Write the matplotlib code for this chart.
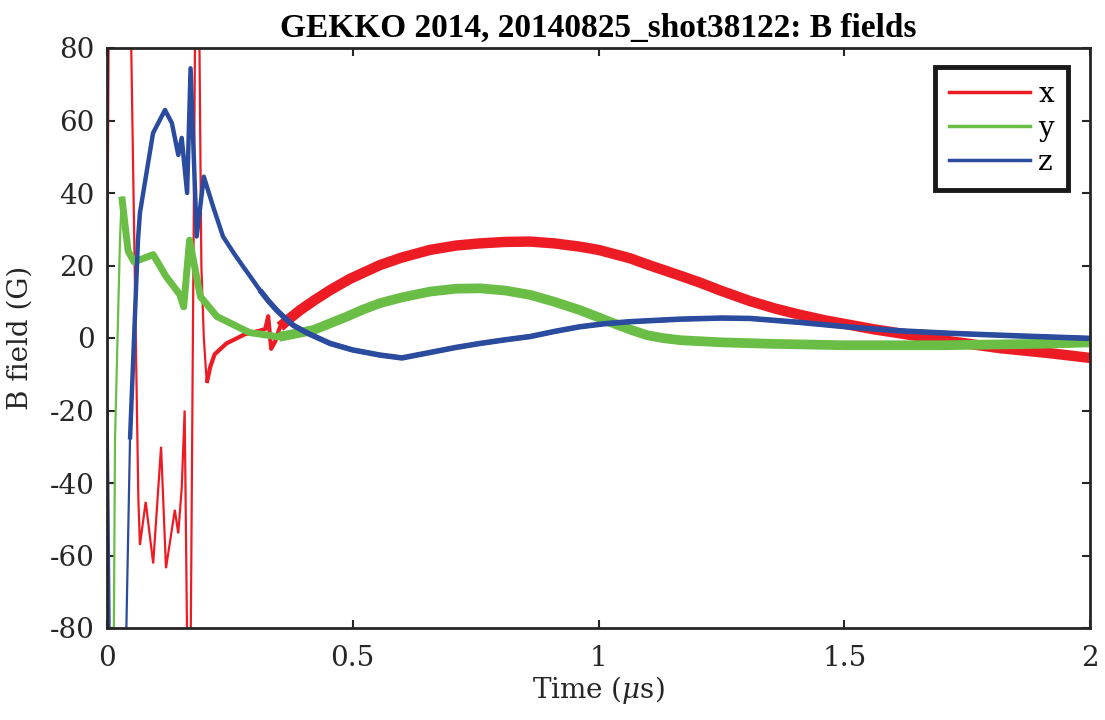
import matplotlib
matplotlib.use("Agg")
import matplotlib.pyplot as plt
import numpy as np

# Time axis in microseconds, field values in gauss
red_t = [0, 0.004, 0.047, 0.0637, 0.067, 0.0787, 0.094, 0.110, 0.120, 0.138,
         0.145, 0.152, 0.158, 0.1635, 0.1700, 0.1795, 0.1875, 0.192, 0.197,
         0.203, 0.21, 0.219, 0.243, 0.28, 0.31, 0.322, 0.328, 0.334, 0.342,
         0.352, 0.37, 0.393, 0.423, 0.454, 0.494, 0.555, 0.6, 0.657, 0.71,
         0.759, 0.81, 0.861, 0.91, 0.962, 1.0, 1.064, 1.105, 1.166, 1.206,
         1.25, 1.308, 1.36, 1.41, 1.46, 1.512, 1.56, 1.613, 1.715, 1.817,
         1.919, 2.0]
red_b = [0, 100, 100, -43.8, -57.1, -45.2, -62.2, -30, -63.5, -47.4,
         -53.9, -41.4, -20, -90, -90, 90, 90, 20, 0,
         -12.4, -8.0, -4.5, -1.5, 1.0, 2.0, 2.5, 6.0, -3.0, -1.0,
         3.1, 5.2, 7.7, 10.5, 13.2, 16.3, 20.1, 22.2, 24.3, 25.5,
         26.1, 26.5, 26.6, 26.1, 25.2, 24.3, 22.0, 20.0, 17.2, 15.3,
         13.0, 10.2, 8.1, 6.4, 4.9, 3.6, 2.4, 1.3, -0.9, -2.8,
         -4.2, -5.5]

green_t = [0, 0.002, 0.0135, 0.0163, 0.0264, 0.030, 0.036, 0.043, 0.055,
           0.075, 0.094, 0.12, 0.148, 0.156, 0.168, 0.19, 0.224, 0.29, 0.35,
           0.42, 0.488, 0.52, 0.555, 0.6, 0.657, 0.71, 0.759, 0.81, 0.861,
           0.91, 0.962, 1.0, 1.03, 1.065, 1.098, 1.13, 1.166, 1.25, 1.35,
           1.5, 1.7, 1.9, 2.0]
green_b = [0, -90, -90, -28, 27, 39, 32, 24, 21,
           22, 23, 17, 12, 8.6, 27, 11.4, 5.9, 1.5, 0.3,
           2.2, 5.9, 7.8, 9.6, 11.2, 12.8, 13.6, 13.7, 13.1, 11.9,
           10.0, 7.7, 5.7, 4.1, 2.3, 0.8, 0.0, -0.6, -1.2, -1.6,
           -2.0, -2.0, -1.6, -1.2]

blue_t = [0, 0.006, 0.038, 0.0468, 0.063, 0.067, 0.0936, 0.118, 0.132, 0.145,
          0.152, 0.163, 0.170, 0.1825, 0.197, 0.216, 0.236, 0.26, 0.277,
          0.295, 0.311, 0.328, 0.345, 0.362, 0.379, 0.41, 0.454, 0.5, 0.555,
          0.6, 0.657, 0.71, 0.759, 0.81, 0.861, 0.91, 0.962, 1.01, 1.064,
          1.166, 1.25, 1.308, 1.41, 1.512, 1.61, 1.715, 1.85, 2.0]
blue_b = [0, -90, -90, -28, 27, 34.5, 56.5, 62.9, 59.3, 50.5,
          55.2, 40, 74.4, 28, 44.5, 36.2, 28, 23, 19.7,
          16.3, 13.2, 10.3, 7.7, 5.5, 3.5, 1.2, -1.5, -3.3, -4.7,
          -5.5, -4.0, -2.6, -1.5, -0.5, 0.4, 1.8, 3.1, 3.9, 4.5,
          5.2, 5.5, 5.4, 4.3, 3.0, 2.0, 1.3, 0.6, -0.1]

labels = ["x", "y", "z"]
x_ticks = [0, 0.5, 1, 1.5, 2]
x_tick_labels = ["0", "0.5", "1", "1.5", "2"]
y_ticks = [-80, -60, -40, -20, 0, 20, 40, 60, 80]

colors = ["#ED1C24", "#6ABD45", "#2B4C9E"]
# (start time, line width) for the broad, noisy stretches of each trace
noisy_stages = [
    [(0.2, 3.0), (0.345, 7.5)],
    [(0.028, 5.0), (0.3, 7.0)],
    [(0.045, 3.2), (0.3, 4.0)],
]

plt.rcParams["font.family"] = ["DejaVu Serif"]
plt.rcParams["mathtext.fontset"] = "dejavuserif"
plt.rcParams["axes.unicode_minus"] = False
ink = "#262626"

fig = plt.figure(figsize=(11.05, 7.2), dpi=100)
ax = fig.add_axes([107 / 1105, 1 - 628 / 720, (1090 - 107) / 1105, (628 - 48) / 720])

series = [(red_t, red_b), (green_t, green_b), (blue_t, blue_b)]
for (t, b), c, lab, stages in zip(series, colors, labels, noisy_stages):
    t = np.asarray(t)
    b = np.asarray(b)
    ax.plot(t, b, color=c, lw=1.6, label=lab, solid_joinstyle="miter",
            clip_on=True, zorder=2.5)
    for t0, w in stages:
        m = t >= t0
        ax.plot(t[m], b[m], color=c, lw=w, solid_capstyle="butt",
                solid_joinstyle="round", zorder=2.5)

ax.set_xlim(0, 2)
ax.set_ylim(-80, 80)
ax.set_xticks(x_ticks)
ax.set_xticklabels(x_tick_labels)
ax.set_yticks(y_ticks)
ax.tick_params(direction="in", length=6, width=1.5, top=True, right=True,
               labelsize=20, colors=ink)
ax.tick_params(axis="x", pad=12)
ax.tick_params(axis="y", pad=9)
for s in ax.spines.values():
    s.set_linewidth(2)
    s.set_color(ink)

ax.set_xlabel("Time ($\\mu$s)", fontsize=20, color=ink, labelpad=2)
ax.set_ylabel("B field (G)", fontsize=20, color=ink)
ax.yaxis.set_label_coords(-0.075, 0.5)
ax.set_title("GEKKO 2014, 20140825_shot38122: B fields", fontsize=24,
             fontweight="bold", family="Liberation Serif", color="black", pad=8)

leg = ax.legend(loc="upper right", bbox_to_anchor=(0.9775, 0.967), fontsize=20,
                frameon=True, fancybox=False, framealpha=1.0,
                handlelength=2.9, handletextpad=0.3,
                labelspacing=0.25, borderpad=0.5, borderaxespad=0.0)
frame = leg.get_frame()
frame.set_edgecolor("#1a1a1a")
frame.set_linewidth(3.5)
for h in leg.get_lines():
    h.set_linewidth(2.5)

fig.savefig("out.png", dpi=100)
